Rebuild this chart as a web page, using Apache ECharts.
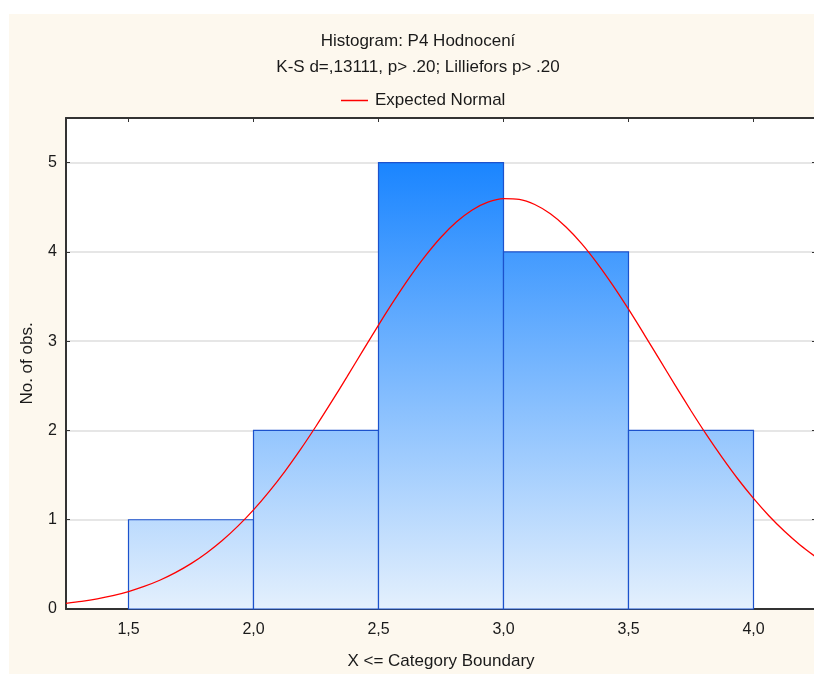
<!DOCTYPE html>
<html>
<head>
<meta charset="utf-8">
<title>Histogram: P4 Hodnocení</title>
<script src="https://cdn.jsdelivr.net/npm/echarts@6/dist/echarts.min.js"></script>
<style>
  html, body { margin: 0; padding: 0; background: #ffffff; }
  #chart { width: 814px; height: 674px; }
</style>
</head>
<body>
<div id="chart"></div>
<script>
// Histogram bins (lower / upper category boundary) and observed counts
const binStart = [1.5, 2.0, 2.5, 3.0, 3.5];
const binEnd   = [2.0, 2.5, 3.0, 3.5, 4.0];
const counts   = [1, 2, 5, 4, 2];

// Expected normal curve, sampled along the x axis
const curveX = [1.25, 1.3125, 1.375, 1.4375, 1.5, 1.5625, 1.625, 1.6875, 1.75, 1.8125, 1.875, 1.9375,
                2.0, 2.0625, 2.125, 2.1875, 2.25, 2.3125, 2.375, 2.4375, 2.5, 2.5625, 2.625, 2.6875,
                2.75, 2.8125, 2.875, 2.9375, 3.0, 3.0625, 3.125, 3.1875, 3.25, 3.3125, 3.375, 3.4375,
                3.5, 3.5625, 3.625, 3.6875, 3.75, 3.8125, 3.875, 3.9375, 4.0, 4.0625, 4.125, 4.1875, 4.25];
const curveY = [0.064, 0.086, 0.114, 0.150, 0.196, 0.253, 0.322, 0.407, 0.508, 0.628, 0.767, 0.928,
                1.110, 1.315, 1.540, 1.785, 2.047, 2.322, 2.606, 2.894, 3.180, 3.456, 3.717, 3.955,
                4.164, 4.337, 4.470, 4.557, 4.597, 4.589, 4.531, 4.427, 4.279, 4.093, 3.872, 3.625,
                3.358, 3.077, 2.790, 2.503, 2.221, 1.950, 1.695, 1.456, 1.239, 1.042, 0.868, 0.715, 0.582];

const titleLine1 = 'Histogram: P4 Hodnocení';
const titleLine2 = 'K-S d=,13111, p> .20; Lilliefors p> .20';
const curveName = 'Expected Normal';
const xName = 'X <= Category Boundary';
const yName = 'No. of obs.';

const FONT = '"Liberation Sans", Arial, sans-serif';
const TEXT = '#1a1a1a';
const AXIS = '#333333';

const barData = binStart.map((s, i) => [s, binEnd[i], counts[i]]);
const curveData = curveX.map((x, i) => [x, curveY[i]]);
const maxCount = Math.max.apply(null, counts);

const fmtComma = v => {
  const r = Math.round(v * 100) / 100;
  if (Math.abs(r * 2 - Math.round(r * 2)) > 1e-9) return '';
  return r.toFixed(1).replace('.', ',');
};

const chart = echarts.init(document.getElementById('chart'), null, { renderer: 'canvas' });

chart.setOption({
  backgroundColor: '#ffffff',
  animation: false,
  textStyle: { fontFamily: FONT },
  graphic: [
    {
      type: 'rect', z: -10, silent: true,
      shape: { x: 9, y: 14, width: 820, height: 680 },
      style: { fill: '#fdf8ee' }
    },
    {
      type: 'text', z: 10, silent: true, x: 418, y: 41,
      style: { text: titleLine1, fill: TEXT, font: '17px ' + FONT, textAlign: 'center', textVerticalAlign: 'middle' }
    },
    {
      type: 'text', z: 10, silent: true, x: 418, y: 67,
      style: { text: titleLine2, fill: TEXT, font: '17px ' + FONT, textAlign: 'center', textVerticalAlign: 'middle' }
    }
  ],
  legend: {
    data: [{ name: curveName, icon: 'rect' }],
    left: 336,
    top: 87,
    itemWidth: 27,
    itemHeight: 1.5,
    textStyle: { fontSize: 17, color: TEXT, fontFamily: FONT, padding: [0, 0, 0, 2] }
  },
  grid: {
    left: 66, right: -2, top: 118, bottom: 65,
    outerBoundsMode: 'none',
    containLabel: false,
    show: true, backgroundColor: '#ffffff', borderWidth: 0
  },
  xAxis: [
    {
      type: 'value', min: 1.25, max: 4.25, splitNumber: 6,
      name: xName, nameLocation: 'middle', nameGap: 44,
      nameTextStyle: { fontSize: 17, color: TEXT, fontFamily: FONT },
      axisLine: { show: true, onZero: false, lineStyle: { color: AXIS, width: 2 } },
      axisTick: { show: true, inside: true, length: 4, lineStyle: { color: AXIS } },
      axisLabel: { fontSize: 16, color: TEXT, margin: 13, formatter: fmtComma,
                   showMinLabel: false, showMaxLabel: false },
      splitLine: { show: false }
    },
    {
      type: 'value', position: 'top', min: 1.25, max: 4.25, splitNumber: 6,
      axisLine: { show: true, onZero: false, lineStyle: { color: AXIS, width: 2 } },
      axisTick: { show: true, inside: true, length: 4, lineStyle: { color: AXIS } },
      axisLabel: { show: false },
      splitLine: { show: false }
    }
  ],
  yAxis: [
    {
      type: 'value', min: 0, max: 5.5, interval: 1,
      name: yName, nameLocation: 'middle', nameGap: 30, nameRotate: 90,
      nameTextStyle: { fontSize: 17, color: TEXT, fontFamily: FONT },
      axisLine: { show: true, onZero: false, lineStyle: { color: AXIS, width: 2 } },
      axisTick: { show: true, inside: true, length: 4, lineStyle: { color: AXIS } },
      axisLabel: { fontSize: 16, color: TEXT, margin: 9, showMaxLabel: false },
      splitLine: { show: true, lineStyle: { color: '#dedede', width: 1.5 } }
    },
    {
      type: 'value', position: 'right', min: 0, max: 5.5, interval: 1,
      axisLine: { show: true, onZero: false, lineStyle: { color: AXIS, width: 2 } },
      axisTick: { show: true, inside: true, length: 4, lineStyle: { color: AXIS } },
      axisLabel: { show: false },
      splitLine: { show: false }
    }
  ],
  series: [
    {
      name: 'Counts',
      type: 'custom',
      xAxisIndex: 0, yAxisIndex: 0,
      z: 2,
      encode: { x: [0, 1], y: 2 },
      data: barData,
      renderItem: function (params, api) {
        const p0 = api.coord([api.value(0), api.value(2)]);
        const p1 = api.coord([api.value(1), 0]);
        const gTop = api.coord([0, maxCount])[1];
        const gBot = api.coord([0, 0])[1];
        const fill = new echarts.graphic.LinearGradient(0, gTop, 0, gBot, [
          { offset: 0, color: '#1a85ff' },
          { offset: 1, color: '#e4f0fd' }
        ], true);
        return {
          type: 'rect',
          shape: { x: p0[0], y: p0[1], width: p1[0] - p0[0], height: p1[1] - p0[1] },
          style: { fill: fill, stroke: '#1c52cc', lineWidth: 1.2 }
        };
      }
    },
    {
      name: curveName,
      type: 'line',
      xAxisIndex: 0, yAxisIndex: 0,
      z: 5,
      data: curveData,
      smooth: 0.3,
      symbol: 'none',
      clip: true,
      color: '#ff0000',
      itemStyle: { color: '#ff0000' },
      lineStyle: { color: '#ff0000', width: 1.3 }
    }
  ]
});
</script>
</body>
</html>
